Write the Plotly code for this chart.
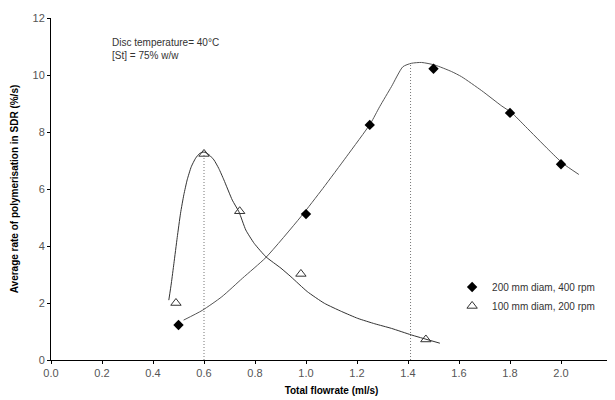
import plotly.graph_objects as go

# measured points
x_200 = [0.50, 1.00, 1.25, 1.50, 1.80, 2.00]
y_200 = [1.23, 5.12, 8.25, 10.22, 8.67, 6.87]
x_100 = [0.49, 0.60, 0.74, 0.98, 1.47]
y_100 = [2.00, 7.23, 5.22, 3.02, 0.72]

# fitted curves
cx_200 = [0.52, 0.593, 0.67, 0.751, 0.843, 0.98, 1.066, 1.16, 1.253, 1.289, 1.335, 1.38, 1.413, 1.453, 1.505, 1.571, 1.61, 1.689, 1.768, 1.806, 1.86, 1.952, 2.007, 2.07]
cy_200 = [1.40, 1.74, 2.22, 2.87, 3.60, 5.03, 6.02, 7.15, 8.30, 8.89, 9.59, 10.29, 10.41, 10.44, 10.35, 10.12, 9.94, 9.45, 8.91, 8.68, 8.20, 7.37, 6.90, 6.51]
cx_100 = [0.462, 0.472, 0.482, 0.495, 0.508, 0.521, 0.534, 0.550, 0.567, 0.583, 0.600, 0.620, 0.639, 0.658, 0.678, 0.711, 0.737, 0.764, 0.797, 0.843, 0.902, 0.941, 1.005, 1.072, 1.140, 1.203, 1.270, 1.335, 1.413, 1.525]
cy_100 = [2.10, 2.70, 3.39, 4.30, 5.15, 5.80, 6.32, 6.78, 7.08, 7.25, 7.30, 7.20, 7.02, 6.72, 6.32, 5.61, 5.20, 4.56, 4.09, 3.62, 3.22, 2.92, 2.40, 1.99, 1.70, 1.46, 1.27, 1.11, 0.88, 0.59]

# dotted guide lines at curve maxima
guide_x = [0.60, 1.41]
guide_top = [7.28, 10.38]

x_ticks = [0.0, 0.2, 0.4, 0.6, 0.8, 1.0, 1.2, 1.4, 1.6, 1.8, 2.0, 2.2]
y_ticks = [0, 2, 4, 6, 8, 10, 12]

fig = go.Figure()

for gx, gt in zip(guide_x, guide_top):
    fig.add_trace(go.Scatter(x=[gx, gx], y=[0, gt], mode="lines",
                             line=dict(color="#777777", width=1, dash="1px,2px"),
                             showlegend=False, hoverinfo="skip"))

fig.add_trace(go.Scatter(x=cx_200, y=cy_200, mode="lines",
                         line=dict(color="#555555", width=1, shape="spline", smoothing=0.6),
                         showlegend=False, hoverinfo="skip"))
fig.add_trace(go.Scatter(x=cx_100, y=cy_100, mode="lines",
                         line=dict(color="#333333", width=1, shape="spline", smoothing=0.5),
                         showlegend=False, hoverinfo="skip"))

fig.add_trace(go.Scatter(x=x_200, y=y_200, mode="markers", name="200 mm diam, 400 rpm",
                         marker=dict(symbol="diamond", size=8, color="black")))
fig.add_trace(go.Scatter(x=x_100, y=y_100, mode="markers", name="100 mm diam, 200 rpm",
                         marker=dict(symbol="triangle-up-open", size=9, color="#333333",
                                     line=dict(width=1))))

fig.add_annotation(x=0.23, y=11.15, xref="x", yref="y", xanchor="left", yanchor="middle",
                   text="Disc temperature= 40°C", showarrow=False,
                   font=dict(size=10, color="#333333"))
fig.add_annotation(x=0.23, y=10.7, xref="x", yref="y", xanchor="left", yanchor="middle",
                   text="[St] = 75% w/w", showarrow=False,
                   font=dict(size=10, color="#333333"))

axis_common = dict(showgrid=False, zeroline=False, showline=True, linecolor="black",
                   linewidth=1, ticks="outside", ticklen=3, tickcolor="black",
                   tickfont=dict(size=11, color="#555555"))

fig.update_xaxes(range=[0, 2.2], tickvals=x_ticks,
                 ticktext=[f"{v:.1f}" for v in x_ticks],
                 title=dict(text="<b>Total flowrate (ml/s)</b>", font=dict(size=10, color="black"), standoff=8),
                 **axis_common)
fig.update_yaxes(range=[0, 12], tickvals=y_ticks,
                 title=dict(text="<b>Average rate of polymerisation in SDR (%/s)</b>", font=dict(size=10, color="black"), standoff=12),
                 **axis_common)

# page body has an 8px margin, so the figure is shrunk and margins offset by it
fig.update_layout(
    width=607, height=392,
    margin=dict(l=43, r=3, t=10, b=40),
    plot_bgcolor="white", paper_bgcolor="white",
    font=dict(family="Liberation Sans, Arial, sans-serif"),
    legend=dict(x=0.715, y=0.256, xanchor="left", yanchor="top",
                font=dict(size=10, color="#333333"), itemwidth=30,
                tracegroupgap=0, bgcolor="rgba(0,0,0,0)"),
)

fig.write_html("out.html")
